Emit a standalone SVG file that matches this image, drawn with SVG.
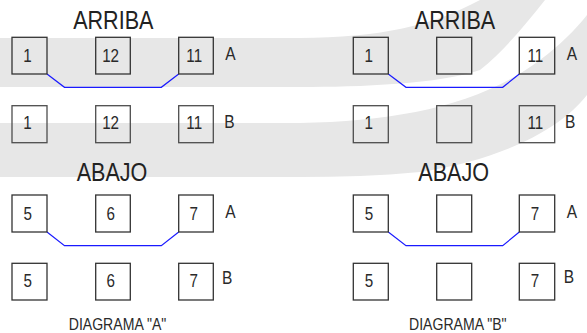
<svg xmlns="http://www.w3.org/2000/svg" width="587" height="333" viewBox="0 0 587 333">
<style>
.bg{fill:#e7e7e7;stroke:none}
.box{fill:none;stroke:#333;stroke-width:1.3}
.box2{fill:none;stroke:#4d4d4d;stroke-width:1.3}
.d{font-family:"Liberation Sans",Arial,sans-serif;font-size:19px;fill:#2a2a2a;text-anchor:middle}
.lab{font-family:"Liberation Sans",Arial,sans-serif;font-size:18.5px;fill:#2a2a2a}
.t{font-family:"Liberation Sans",Arial,sans-serif;font-size:26px;fill:#222;text-anchor:middle}
.cap{font-family:"Liberation Sans",Arial,sans-serif;font-size:16px;fill:#2a2a2a;text-anchor:middle}
.wire{fill:none;stroke:#1a1aff;stroke-width:1.2}
</style>
<rect width="587" height="333" fill="#ffffff"/>
<g id="background">
<path class="bg" d="M0,38 H300 C380,37 430,27 480,0 H545 C525,25 505,50 480,70 C440,84 360,87 300,87 H0 Z"/>
<path class="bg" d="M0,123 H300 C400,121 480,105 540,60 C560,45 575,30 587,15 V95 C560,130 500,160 420,172 C380,176 340,177 300,177 H0 Z"/>
</g>
<g id="titles">
<text class="t" transform="translate(113.3,29.3) scale(0.83,1)">ARRIBA</text>
<text class="t" transform="translate(455,29.3) scale(0.83,1)">ARRIBA</text>
<text class="t" transform="translate(112,180.5) scale(0.83,1)">ABAJO</text>
<text class="t" transform="translate(453.7,180.5) scale(0.83,1)">ABAJO</text>
<text class="cap" transform="translate(117.5,330) scale(0.88,1)">DIAGRAMA "A"</text>
<text class="cap" transform="translate(457.8,330) scale(0.88,1)">DIAGRAMA "B"</text>
</g>
<g id="connectors">
<polyline class="wire" points="47,74 64.5,87.3 161.3,87.3 178.7,74"/>
<polyline class="wire" points="388.3,74 406,87.3 502.7,87.3 519.3,74"/>
<polyline class="wire" points="47,232 64.5,245.7 161.3,245.7 178.7,232"/>
<polyline class="wire" points="388.3,232 406,245.7 502.7,245.7 519.3,232"/>
</g>
<!-- Diagram A, ARRIBA -->
<g id="a-arriba-a-1"><rect class="box" x="12" y="37.3" width="35" height="36.7"/><text class="d" transform="translate(27.5,61.7) scale(0.8,1)">1</text></g>
<g id="a-arriba-a-12"><rect class="box" x="95.7" y="37.3" width="34.6" height="36.7"/><text class="d" transform="translate(110.6,61.7) scale(0.8,1)">12</text></g>
<g id="a-arriba-a-11"><rect class="box" x="178.7" y="37.3" width="34.6" height="36.7"/><text class="d" transform="translate(194.2,61.7) scale(0.8,1)">11</text></g>
<g id="a-arriba-b-1"><rect class="box2" x="12" y="105.7" width="35" height="37"/><text class="d" transform="translate(27.5,129) scale(0.8,1)">1</text></g>
<g id="a-arriba-b-12"><rect class="box2" x="95.7" y="105.7" width="34.6" height="37"/><text class="d" transform="translate(110.6,129) scale(0.8,1)">12</text></g>
<g id="a-arriba-b-11"><rect class="box2" x="178.7" y="105.7" width="34.6" height="37"/><text class="d" transform="translate(194.2,129) scale(0.8,1)">11</text></g>
<!-- Diagram A, ABAJO -->
<g id="a-abajo-a-5"><rect class="box" x="12" y="195" width="35" height="37"/><text class="d" transform="translate(27.7,220) scale(0.8,1)">5</text></g>
<g id="a-abajo-a-6"><rect class="box" x="95.7" y="195" width="34.6" height="37"/><text class="d" transform="translate(110.8,220) scale(0.8,1)">6</text></g>
<g id="a-abajo-a-7"><rect class="box" x="178.7" y="195" width="34.6" height="37"/><text class="d" transform="translate(193.8,220) scale(0.8,1)">7</text></g>
<g id="a-abajo-b-5"><rect class="box" x="12" y="263.3" width="35" height="36.7"/><text class="d" transform="translate(27.7,286.7) scale(0.8,1)">5</text></g>
<g id="a-abajo-b-6"><rect class="box" x="95.7" y="263.3" width="34.6" height="36.7"/><text class="d" transform="translate(110.8,286.7) scale(0.8,1)">6</text></g>
<g id="a-abajo-b-7"><rect class="box" x="178.7" y="263.3" width="34.6" height="36.7"/><text class="d" transform="translate(193.8,286.7) scale(0.8,1)">7</text></g>
<!-- Diagram B, ARRIBA -->
<g id="b-arriba-a-1"><rect class="box" x="353.3" y="37.3" width="35" height="36.7"/><text class="d" transform="translate(368.8,61.7) scale(0.8,1)">1</text></g>
<g id="b-arriba-a-empty"><rect class="box" x="436.7" y="37.3" width="35" height="36.7"/></g>
<g id="b-arriba-a-11"><rect class="box" x="519.3" y="37.3" width="35.4" height="36.7"/><text class="d" transform="translate(535.3,61.7) scale(0.8,1)">11</text></g>
<g id="b-arriba-b-1"><rect class="box2" x="353.3" y="105.7" width="35" height="37"/><text class="d" transform="translate(368.8,129) scale(0.8,1)">1</text></g>
<g id="b-arriba-b-empty"><rect class="box2" x="436.7" y="105.7" width="35" height="37"/></g>
<g id="b-arriba-b-11"><rect class="box2" x="519.3" y="105.7" width="35.4" height="37"/><text class="d" transform="translate(535.3,129) scale(0.8,1)">11</text></g>
<!-- Diagram B, ABAJO -->
<g id="b-abajo-a-5"><rect class="box" x="353.3" y="195" width="35" height="37"/><text class="d" transform="translate(369,220) scale(0.8,1)">5</text></g>
<g id="b-abajo-a-empty"><rect class="box" x="436.7" y="195" width="35" height="37"/></g>
<g id="b-abajo-a-7"><rect class="box" x="519.3" y="195" width="35.4" height="37"/><text class="d" transform="translate(535,220) scale(0.8,1)">7</text></g>
<g id="b-abajo-b-5"><rect class="box" x="353.3" y="263.3" width="35" height="36.7"/><text class="d" transform="translate(369,286.7) scale(0.8,1)">5</text></g>
<g id="b-abajo-b-empty"><rect class="box" x="436.7" y="263.3" width="35" height="36.7"/></g>
<g id="b-abajo-b-7"><rect class="box" x="519.3" y="263.3" width="35.4" height="36.7"/><text class="d" transform="translate(535,286.7) scale(0.8,1)">7</text></g>
<!-- Row labels -->
<g id="row-labels">
<text class="lab" transform="translate(225.3,60) scale(0.84,1)">A</text>
<text class="lab" transform="translate(224.3,128.3) scale(0.84,1)">B</text>
<text class="lab" transform="translate(225.3,218.3) scale(0.84,1)">A</text>
<text class="lab" transform="translate(222,284) scale(0.84,1)">B</text>
<text class="lab" transform="translate(566.7,60) scale(0.84,1)">A</text>
<text class="lab" transform="translate(565,127.7) scale(0.84,1)">B</text>
<text class="lab" transform="translate(566.7,218.3) scale(0.84,1)">A</text>
<text class="lab" transform="translate(563.7,283.3) scale(0.84,1)">B</text>
</g>
</svg>
